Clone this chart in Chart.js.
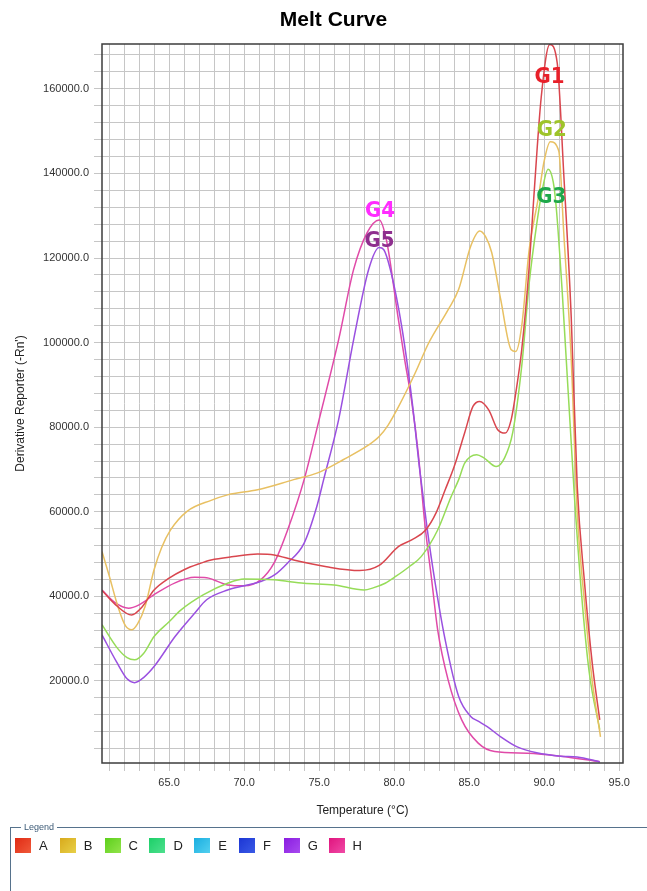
<!DOCTYPE html>
<html>
<head>
<meta charset="utf-8">
<title>Melt Curve</title>
<script src="https://cdn.jsdelivr.net/npm/chart.js@4.4.1/dist/chart.umd.min.js"></script>
<style>
  body { margin: 0; background: #fff; font-family: "Liberation Sans", Arial, sans-serif; overflow: hidden; }
  #wrap { position: relative; width: 647px; height: 891px; overflow: hidden; background: #fff; }
  #melt { position: absolute; left: 0; top: 0; }
  #chart-title { position: absolute; left: 0; top: 6px; width: 667px; text-align: center; font-weight: bold; font-size: 21px; line-height: 26px; color: #000; }
  #legend-box { position: absolute; left: 10px; top: 827px; width: 700px; height: 120px; border: 1px solid #56728c; box-sizing: border-box; }
  #legend-box .caption { position: absolute; left: 10px; top: -6px; background: #fff; padding: 0 3px; font-size: 9px; color: #3c5a76; line-height: 11px; }
  #legend-items { position: absolute; left: 4px; top: 10px; display: flex; }
  .item { width: 44.8px; display: flex; align-items: center; font-size: 13px; color: #222; }
  .swatch { width: 16px; height: 15px; margin-right: 8px; }
</style>
</head>
<body>
<div id="wrap">
  <canvas id="melt" width="647" height="826"></canvas>
  <div id="chart-title">Melt Curve</div>
  <div id="legend-box">
    <span class="caption">Legend</span>
    <div id="legend-items"></div>
  </div>
</div>
<script>
// Pocillos y colores de la leyenda
const wellNames = ['A', 'B', 'C', 'D', 'E', 'F', 'G', 'H'];
const wellColors = [
  ['#e02a14', '#f05a3a'], ['#d8aa1c', '#e8d048'], ['#5ccf1c', '#92e44a'], ['#1ccf68', '#4ee08e'],
  ['#1aaee0', '#52d0f0'], ['#1c36d4', '#3a5ae6'], ['#8a1ce0', '#a84af0'], ['#e0147e', '#f04aa6']
];

// Ejes: etiquetas cada 5 °C / 20000, rejilla cada 1 °C / 4000
const xTickLabels = [65, 70, 75, 80, 85, 90, 95];
const yTickLabels = [20000, 40000, 60000, 80000, 100000, 120000, 140000, 160000];
const xGridStep = 1;
const yGridStep = 4000;

// Curvas de fusión (temperatura °C, derivada -Rn')
const tempA = [60.53, 61.5, 62.5, 63.2, 64.0, 65.0, 66.0, 67.0, 67.8, 69.3, 70.9, 72.0, 73.3, 75.5, 77.7, 79.0, 80.3, 81.2, 82.1, 82.8, 83.4, 84.0, 84.7, 85.25, 85.7, 86.3, 86.9, 87.4, 87.8, 88.1, 88.5, 89.0, 89.3, 89.8, 90.37, 90.87, 91.3, 91.8, 92.2, 92.67, 93.2, 93.7];
const derivA = [41400, 37800, 35600, 37500, 41500, 44300, 46300, 47700, 48600, 49400, 50000, 49800, 48600, 47000, 46100, 47300, 51800, 53400, 55700, 59800, 65200, 70700, 78700, 84900, 86100, 84100, 79400, 78600, 81800, 88000, 98300, 118000, 134000, 158000, 170500, 166000, 140000, 106000, 66000, 43900, 24200, 10800];

const tempB = [60.53, 61.0, 61.6, 62.1, 62.5, 62.9, 63.4, 64.0, 64.5, 65.1, 66.2, 67.8, 68.9, 70.9, 73.3, 74.9, 76.6, 78.3, 79.0, 79.6, 80.3, 81.4, 82.3, 83.6, 84.3, 85.1, 85.7, 86.1, 86.5, 87.1, 87.8, 88.1, 88.5, 89.0, 89.6, 90.0, 90.4, 90.97, 91.3, 91.8, 92.2, 92.7, 93.2, 93.75];
const derivB = [50600, 45000, 37500, 33000, 32100, 33500, 37600, 46300, 51500, 55700, 60100, 62700, 64000, 65200, 67600, 69200, 72300, 75800, 77800, 80500, 84900, 92800, 99900, 107800, 112600, 122800, 126400, 125000, 121300, 110200, 98300, 97900, 103900, 122000, 134100, 143000, 147500, 145300, 126100, 96000, 59800, 38000, 20000, 6800];

const tempC = [60.53, 61.5, 62.2, 62.7, 63.3, 64.0, 65.0, 65.8, 67.3, 68.9, 70.0, 72.0, 74.0, 76.0, 78.0, 78.6, 79.4, 80.1, 81.0, 81.8, 82.9, 83.8, 84.3, 84.7, 85.5, 86.0, 86.8, 87.35, 87.9, 88.5, 89.0, 89.5, 89.85, 90.26, 90.6, 90.8, 91.2, 92.0, 92.5, 93.0, 93.7];
const derivC = [33300, 28000, 25500, 25000, 26500, 30500, 34000, 36800, 40400, 43100, 44100, 43900, 43100, 42700, 41500, 42000, 43100, 44700, 47000, 49400, 55700, 63600, 67600, 71500, 73500, 72700, 70700, 72700, 78700, 94400, 114100, 128000, 135700, 141000, 138000, 132000, 112000, 64400, 40000, 22000, 8500];

const tempG = [60.53, 61.5, 62.2, 62.7, 63.3, 64.0, 65.4, 66.7, 67.5, 68.9, 70.0, 71.1, 72.0, 72.9, 74.0, 74.85, 75.3, 76.3, 77.3, 78.3, 79.0, 79.3, 79.8, 80.5, 81.2, 81.7, 82.2, 82.7, 83.4, 84.3, 85.1, 85.6, 86.2, 87.1, 88.2, 89.5, 91.1, 92.2, 93.7];
const derivG = [30900, 24500, 20500, 19600, 20800, 23400, 30500, 36000, 39200, 41500, 42500, 43500, 45000, 47900, 52600, 61300, 67600, 81800, 100700, 117300, 122500, 122000, 116500, 103900, 86000, 70000, 56000, 43900, 29700, 16300, 11600, 10500, 9200, 6800, 4400, 3000, 2200, 2000, 900];

const tempH = [60.53, 61.4, 62.3, 63.0, 64.0, 65.4, 66.7, 67.5, 68.9, 70.0, 71.1, 72.0, 72.9, 74.0, 75.0, 76.3, 77.3, 78.2, 79.0, 79.5, 80.25, 80.7, 81.15, 81.6, 82.05, 82.5, 82.9, 83.6, 84.5, 85.6, 86.7, 88.9, 91.1, 93.7];
const derivH = [41500, 38500, 37200, 38000, 40400, 43200, 44500, 44400, 42700, 42500, 43900, 47900, 55700, 67600, 81800, 100700, 117300, 126000, 129000, 124000, 106200, 96000, 86500, 74000, 57000, 43900, 32100, 20200, 10800, 5300, 3300, 2900, 2200, 900];

// Etiquetas de los picos (en coordenadas de datos)
const peakNames = ['G1', 'G2', 'G3', 'G4', 'G5'];
const peakTemps = [90.36, 90.5, 90.47, 79.06, 79.02];
const peakDerivs = [162700, 150200, 134300, 131100, 123900];
const peakColors = ['#e8202a', '#9ec42a', '#1ea84a', '#ff2cff', '#8e2f8e'];

function toPoints(temps, derivs) {
  return temps.map((t, i) => ({ x: t, y: derivs[i] }));
}

function makeDataset(label, temps, derivs, color) {
  return {
    label: label,
    data: toPoints(temps, derivs),
    borderColor: color,
    borderWidth: 1.5,
    pointRadius: 0,
    fill: false,
    cubicInterpolationMode: 'monotone'
  };
}

const datasets = [
  makeDataset('A', tempA, derivA, '#d9464e'),
  makeDataset('B', tempB, derivB, '#e8c062'),
  makeDataset('C', tempC, derivC, '#96dc58'),
  makeDataset('G', tempG, derivG, '#9a50e0'),
  makeDataset('H', tempH, derivH, '#e04aa8')
];

// Ticks de la rejilla entre min y max del eje
function gridTicks(scale, step) {
  const ticks = [];
  for (let v = Math.ceil(scale.min / step) * step; v <= scale.max; v += step) {
    ticks.push({ value: Math.round(v * 100) / 100 });
  }
  scale.ticks = ticks;
}

// Borde del área de gráfica
const plotBorder = {
  id: 'plotBorder',
  afterDatasetsDraw(chart) {
    const { ctx, chartArea: a } = chart;
    ctx.save();
    ctx.strokeStyle = '#3c3c3c';
    ctx.lineWidth = 1.5;
    ctx.strokeRect(a.left, a.top, a.right - a.left, a.bottom - a.top);
    ctx.restore();
  }
};

// Etiquetas G1..G5
const peakLabels = {
  id: 'peakLabels',
  afterDraw(chart) {
    const { ctx, scales } = chart;
    ctx.save();
    ctx.font = 'bold 22px "DejaVu Sans Condensed", "DejaVu Sans", sans-serif';
    ctx.textAlign = 'center';
    ctx.textBaseline = 'middle';
    peakNames.forEach((name, i) => {
      ctx.fillStyle = peakColors[i];
      ctx.fillText(name, scales.x.getPixelForValue(peakTemps[i]), scales.y.getPixelForValue(peakDerivs[i]));
    });
    ctx.restore();
  }
};

const gridColor = '#c6c6c6';
const tickFont = { family: '"Liberation Sans", Arial, sans-serif', size: 11 };

new Chart(document.getElementById('melt'), {
  type: 'line',
  data: { datasets: datasets },
  plugins: [plotBorder, peakLabels],
  options: {
    responsive: false,
    animation: false,
    layout: { padding: { left: 20, right: 24, top: 44, bottom: 0 } },
    plugins: {
      legend: { display: false },
      tooltip: { enabled: false },
      title: { display: false }
    },
    scales: {
      x: {
        type: 'linear',
        min: 60.53,
        max: 95.25,
        afterBuildTicks: s => gridTicks(s, xGridStep),
        afterFit: s => { s.height = 63; },
        grid: { color: gridColor, lineWidth: 1, tickLength: 8, drawTicks: true },
        border: { display: false },
        ticks: {
          autoSkip: false,
          maxRotation: 0,
          padding: 5,
          color: '#333',
          font: tickFont,
          callback: v => xTickLabels.includes(v) ? v.toFixed(1) : ''
        },
        title: {
          display: true,
          text: 'Temperature (°C)',
          color: '#222',
          font: { family: '"Liberation Sans", Arial, sans-serif', size: 12 },
          padding: { top: 0, bottom: 8 }
        }
      },
      y: {
        type: 'linear',
        min: 600,
        max: 170600,
        afterBuildTicks: s => gridTicks(s, yGridStep),
        afterFit: s => { s.width = 82; },
        grid: { color: gridColor, lineWidth: 1, tickLength: 8, drawTicks: true },
        border: { display: false },
        ticks: {
          autoSkip: false,
          padding: 5,
          color: '#333',
          font: tickFont,
          callback: v => yTickLabels.includes(v) ? v.toFixed(1) : ''
        },
        title: {
          display: true,
          text: "Derivative Reporter (-Rn')",
          color: '#222',
          font: { family: '"Liberation Sans", Arial, sans-serif', size: 12 },
          padding: { top: -7, bottom: 0 }
        }
      }
    }
  }
});

// Leyenda HTML con todos los pocillos
const legendItems = document.getElementById('legend-items');
wellNames.forEach((name, i) => {
  const item = document.createElement('div');
  item.className = 'item';
  item.innerHTML = `<span class="swatch" style="background: linear-gradient(135deg, ${wellColors[i][0]}, ${wellColors[i][1]})"></span>${name}`;
  legendItems.appendChild(item);
});
</script>
</body>
</html>
